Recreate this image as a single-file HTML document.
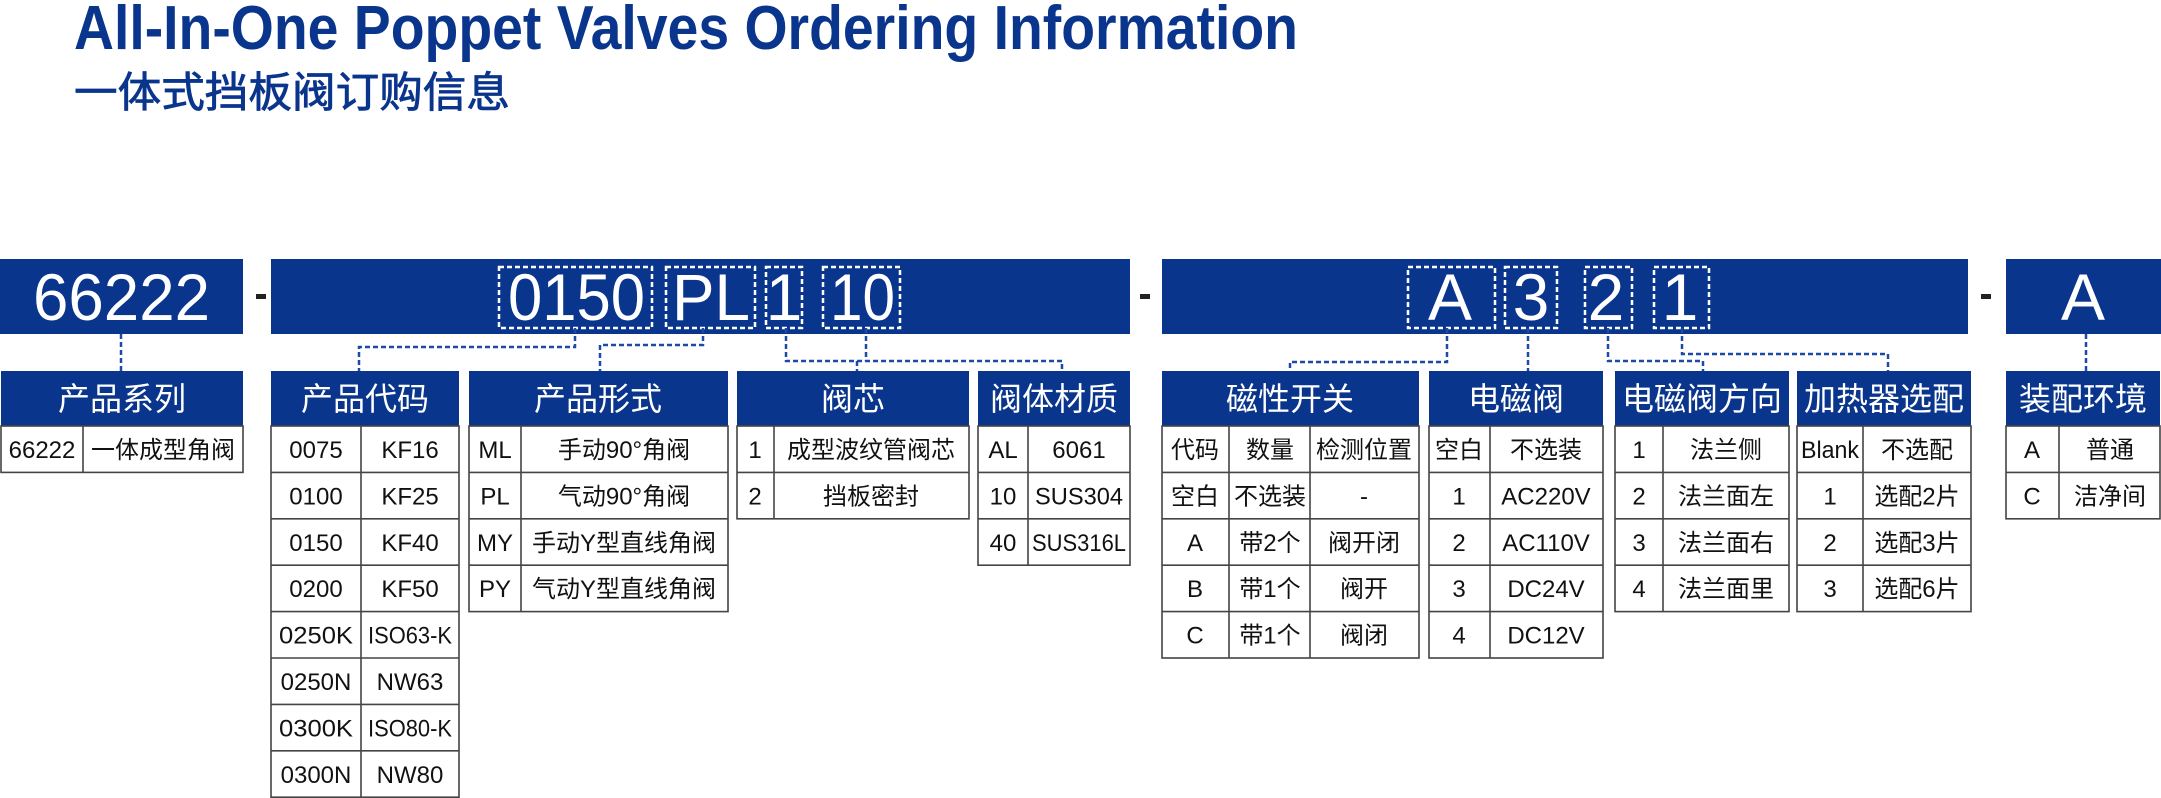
<!DOCTYPE html>
<html><head><meta charset="utf-8"><style>
html,body{margin:0;padding:0;background:#fff;}
svg{display:block;}
text{font-family:"Liberation Sans","Noto Sans CJK SC",sans-serif;}
.h{fill:#fff;font-size:32px;}
.c{fill:#111;font-size:24px;}
.big{fill:#fff;font-size:66px;}
.hd{fill:#0a358c;}
.bd{fill:#fff;stroke:#444;stroke-width:1.6;}
.ln{stroke:#444;stroke-width:1.6;}
.db{fill:none;stroke:#fff;stroke-width:2.5;stroke-dasharray:5 3;}
.cn{fill:none;stroke:#1d4aa8;stroke-width:2.5;stroke-dasharray:5 3;}
</style></head><body>
<svg width="2161" height="798" viewBox="0 0 2161 798" xmlns="http://www.w3.org/2000/svg">
<text x="74" y="49" font-size="62" font-weight="bold" fill="#0a358c" textLength="1224" lengthAdjust="spacingAndGlyphs">All-In-One Poppet Valves Ordering Information</text>
<text x="74" y="107" font-size="42" fill="#0a358c" stroke="#0a358c" stroke-width="0.8" textLength="436" lengthAdjust="spacingAndGlyphs">一体式挡板阀订购信息</text>

<rect x="0" y="259" width="243" height="75" class="hd"/>
<rect x="271" y="259" width="859" height="75" class="hd"/>
<rect x="1162" y="259" width="806" height="75" class="hd"/>
<rect x="2006" y="259" width="155" height="75" class="hd"/>
<rect x="256" y="294" width="10" height="5" fill="#222"/>
<rect x="1140" y="294" width="10" height="5" fill="#222"/>
<rect x="1981" y="294" width="10" height="5" fill="#222"/>

<text x="33" y="320" class="big" textLength="177" lengthAdjust="spacingAndGlyphs">66222</text>
<rect x="499" y="267" width="153" height="61" class="db"/>
<text x="508" y="320" class="big" textLength="137" lengthAdjust="spacingAndGlyphs">0150</text>
<rect x="666" y="267" width="89" height="61" class="db"/>
<text x="672" y="320" class="big" textLength="78" lengthAdjust="spacingAndGlyphs">PL</text>
<rect x="766" y="267" width="36" height="61" class="db"/>
<text x="784" y="320" class="big" text-anchor="middle">1</text>
<rect x="823" y="267" width="77" height="61" class="db"/>
<text x="830" y="320" class="big" textLength="65" lengthAdjust="spacingAndGlyphs">10</text>
<rect x="1408" y="267" width="87" height="61" class="db"/>
<text x="1450" y="320" class="big" text-anchor="middle">A</text>
<rect x="1505" y="267" width="52" height="61" class="db"/>
<text x="1531" y="320" class="big" text-anchor="middle">3</text>
<rect x="1585" y="267" width="47" height="61" class="db"/>
<text x="1606" y="320" class="big" text-anchor="middle">2</text>
<rect x="1654" y="267" width="55" height="61" class="db"/>
<text x="1680" y="320" class="big" text-anchor="middle">1</text>
<text x="2083" y="320" class="big" text-anchor="middle">A</text>

<path class="cn" d="M121 334 V371"/>
<path class="cn" d="M575 328 V347 H359 V371"/>
<path class="cn" d="M703 328 V345 H600 V371"/>
<path class="cn" d="M786 328 V361 H1062 V371"/>
<path class="cn" d="M866 328 V361"/>
<path class="cn" d="M857 361 V371"/>
<path class="cn" d="M1447 328 V362 H1290 V371"/>
<path class="cn" d="M1528 328 V371"/>
<path class="cn" d="M1608 328 V361 H1703 V371"/>
<path class="cn" d="M1682 328 V354 H1888 V371"/>
<path class="cn" d="M2086 334 V371"/>

<!-- Table 1 -->
<rect x="1" y="371" width="242" height="55" class="hd"/>
<text x="122" y="410" class="h" text-anchor="middle">产品系列</text>
<rect x="1" y="426" width="242" height="46.4" class="bd"/>
<line x1="83" y1="426" x2="83" y2="472.4" class="ln"/>
<text x="42" y="458" class="c" text-anchor="middle">66222</text>
<text x="163" y="458" class="c" text-anchor="middle">一体成型角阀</text>

<!-- Table 2 -->
<rect x="271" y="371" width="188" height="55" class="hd"/>
<text x="365" y="410" class="h" text-anchor="middle">产品代码</text>
<rect x="271" y="426" width="188" height="371.2" class="bd"/>
<line x1="361" y1="426" x2="361" y2="797" class="ln"/>
<path class="ln" d="M271 472.4H459M271 518.8H459M271 565.2H459M271 611.6H459M271 658H459M271 704.4H459M271 750.8H459"/>
<g class="c" text-anchor="middle">
<text x="316" y="458">0075</text><text x="410" y="458">KF16</text>
<text x="316" y="504.5">0100</text><text x="410" y="504.5">KF25</text>
<text x="316" y="551">0150</text><text x="410" y="551">KF40</text>
<text x="316" y="597">0200</text><text x="410" y="597">KF50</text>
<text x="316" y="643.5" textLength="74" lengthAdjust="spacingAndGlyphs">0250K</text><text x="410" y="643.5" textLength="84" lengthAdjust="spacingAndGlyphs">ISO63-K</text>
<text x="316" y="690">0250N</text><text x="410" y="690">NW63</text>
<text x="316" y="736.5" textLength="74" lengthAdjust="spacingAndGlyphs">0300K</text><text x="410" y="736.5" textLength="84" lengthAdjust="spacingAndGlyphs">ISO80-K</text>
<text x="316" y="783">0300N</text><text x="410" y="783">NW80</text>
</g>

<!-- Table 3 -->
<rect x="469" y="371" width="259" height="55" class="hd"/>
<text x="598" y="410" class="h" text-anchor="middle">产品形式</text>
<rect x="469" y="426" width="259" height="185.6" class="bd"/>
<line x1="521" y1="426" x2="521" y2="611.6" class="ln"/>
<path class="ln" d="M469 472.4H728M469 518.8H728M469 565.2H728"/>
<g class="c" text-anchor="middle">
<text x="495" y="458">ML</text><text x="624" y="458">手动90°角阀</text>
<text x="495" y="504.5">PL</text><text x="624" y="504.5">气动90°角阀</text>
<text x="495" y="551">MY</text><text x="624" y="551">手动Y型直线角阀</text>
<text x="495" y="597">PY</text><text x="624" y="597">气动Y型直线角阀</text>
</g>

<!-- Table 4 -->
<rect x="737" y="371" width="232" height="55" class="hd"/>
<text x="853" y="410" class="h" text-anchor="middle">阀芯</text>
<rect x="737" y="426" width="232" height="92.8" class="bd"/>
<line x1="774" y1="426" x2="774" y2="518.8" class="ln"/>
<path class="ln" d="M737 472.4H969"/>
<g class="c" text-anchor="middle">
<text x="755" y="458">1</text><text x="871" y="458">成型波纹管阀芯</text>
<text x="755" y="504.5">2</text><text x="871" y="504.5">挡板密封</text>
</g>

<!-- Table 5 -->
<rect x="978" y="371" width="152" height="55" class="hd"/>
<text x="1054" y="410" class="h" text-anchor="middle">阀体材质</text>
<rect x="978" y="426" width="152" height="139.2" class="bd"/>
<line x1="1028" y1="426" x2="1028" y2="565.2" class="ln"/>
<path class="ln" d="M978 472.4H1130M978 518.8H1130"/>
<g class="c" text-anchor="middle">
<text x="1003" y="458">AL</text><text x="1079" y="458">6061</text>
<text x="1003" y="504.5">10</text><text x="1079" y="504.5" textLength="88" lengthAdjust="spacingAndGlyphs">SUS304</text>
<text x="1003" y="551">40</text><text x="1079" y="551" textLength="94" lengthAdjust="spacingAndGlyphs">SUS316L</text>
</g>

<!-- Table 6 -->
<rect x="1162" y="371" width="257" height="55" class="hd"/>
<text x="1290" y="410" class="h" text-anchor="middle">磁性开关</text>
<rect x="1162" y="426" width="257" height="232" class="bd"/>
<path class="ln" d="M1229 426V658M1310 426V658M1162 472.4H1419M1162 518.8H1419M1162 565.2H1419M1162 611.6H1419"/>
<g class="c" text-anchor="middle">
<text x="1195" y="458">代码</text><text x="1270" y="458">数量</text><text x="1364" y="458">检测位置</text>
<text x="1195" y="504.5">空白</text><text x="1270" y="504.5">不选装</text><text x="1364" y="504.5">-</text>
<text x="1195" y="551">A</text><text x="1270" y="551">带2个</text><text x="1364" y="551">阀开闭</text>
<text x="1195" y="597">B</text><text x="1270" y="597">带1个</text><text x="1364" y="597">阀开</text>
<text x="1195" y="643.5">C</text><text x="1270" y="643.5">带1个</text><text x="1364" y="643.5">阀闭</text>
</g>

<!-- Table 7 -->
<rect x="1429" y="371" width="174" height="55" class="hd"/>
<text x="1516" y="410" class="h" text-anchor="middle">电磁阀</text>
<rect x="1429" y="426" width="174" height="232" class="bd"/>
<path class="ln" d="M1490 426V658M1429 472.4H1603M1429 518.8H1603M1429 565.2H1603M1429 611.6H1603"/>
<g class="c" text-anchor="middle">
<text x="1459" y="458">空白</text><text x="1546" y="458">不选装</text>
<text x="1459" y="504.5">1</text><text x="1546" y="504.5">AC220V</text>
<text x="1459" y="551">2</text><text x="1546" y="551">AC110V</text>
<text x="1459" y="597">3</text><text x="1546" y="597">DC24V</text>
<text x="1459" y="643.5">4</text><text x="1546" y="643.5">DC12V</text>
</g>

<!-- Table 8 -->
<rect x="1615" y="371" width="174" height="55" class="hd"/>
<text x="1702" y="410" class="h" text-anchor="middle">电磁阀方向</text>
<rect x="1615" y="426" width="174" height="185.6" class="bd"/>
<path class="ln" d="M1663 426V611.6M1615 472.4H1789M1615 518.8H1789M1615 565.2H1789"/>
<g class="c" text-anchor="middle">
<text x="1639" y="458">1</text><text x="1726" y="458">法兰侧</text>
<text x="1639" y="504.5">2</text><text x="1726" y="504.5">法兰面左</text>
<text x="1639" y="551">3</text><text x="1726" y="551">法兰面右</text>
<text x="1639" y="597">4</text><text x="1726" y="597">法兰面里</text>
</g>

<!-- Table 9 -->
<rect x="1797" y="371" width="174" height="55" class="hd"/>
<text x="1884" y="410" class="h" text-anchor="middle">加热器选配</text>
<rect x="1797" y="426" width="174" height="185.6" class="bd"/>
<path class="ln" d="M1863 426V611.6M1797 472.4H1971M1797 518.8H1971M1797 565.2H1971"/>
<g class="c" text-anchor="middle">
<text x="1830" y="458" textLength="58" lengthAdjust="spacingAndGlyphs">Blank</text><text x="1917" y="458">不选配</text>
<text x="1830" y="504.5">1</text><text x="1917" y="504.5">选配2片</text>
<text x="1830" y="551">2</text><text x="1917" y="551">选配3片</text>
<text x="1830" y="597">3</text><text x="1917" y="597">选配6片</text>
</g>

<!-- Table 10 -->
<rect x="2006" y="371" width="154" height="55" class="hd"/>
<text x="2083" y="410" class="h" text-anchor="middle">装配环境</text>
<rect x="2006" y="426" width="154" height="92.8" class="bd"/>
<path class="ln" d="M2059 426V518.8M2006 472.4H2160"/>
<g class="c" text-anchor="middle">
<text x="2032" y="458">A</text><text x="2110" y="458">普通</text>
<text x="2032" y="504.5">C</text><text x="2110" y="504.5">洁净间</text>
</g>
</svg>
</body></html>
